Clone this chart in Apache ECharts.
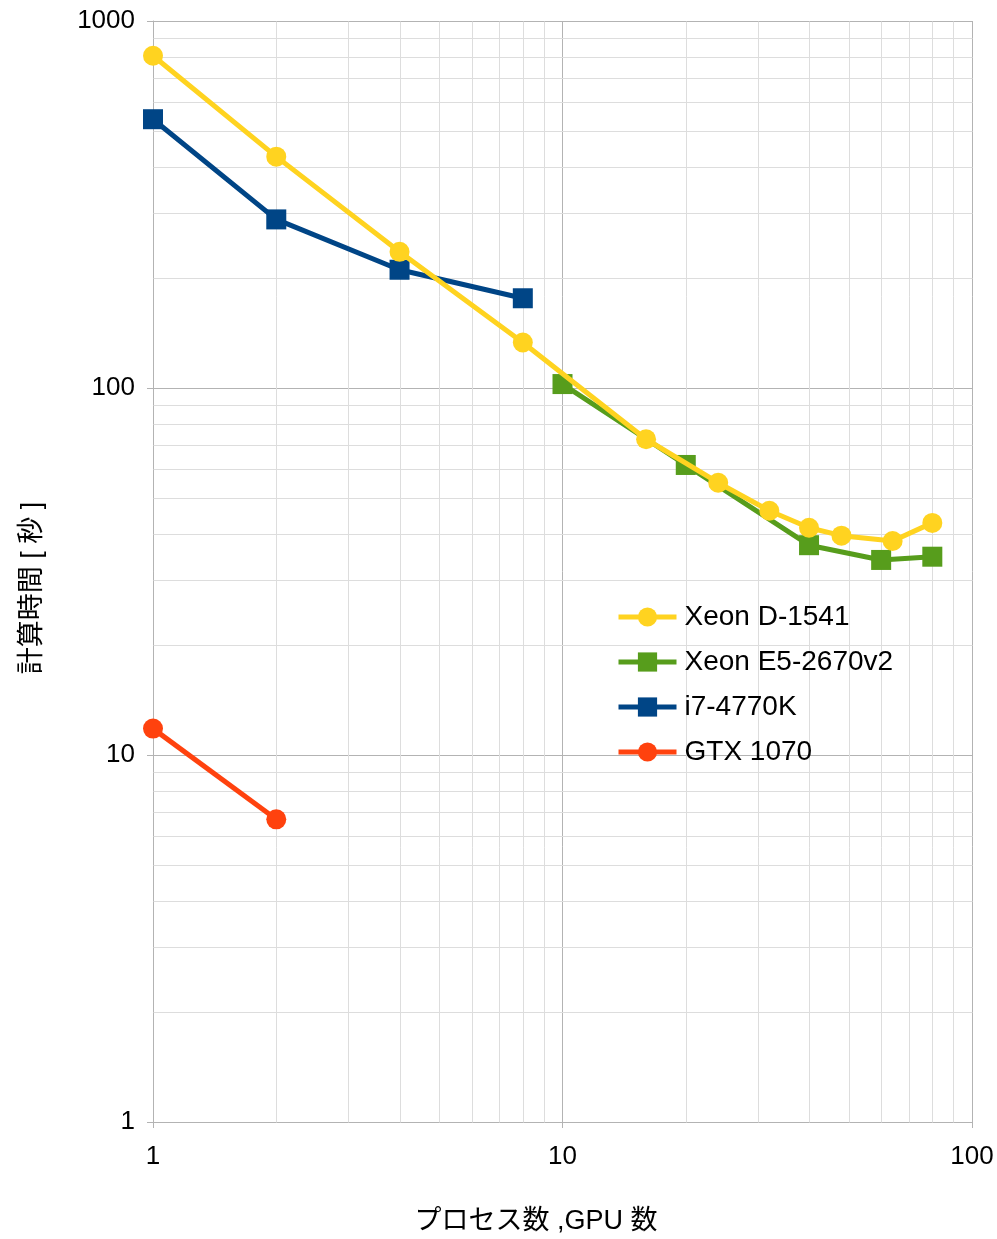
<!DOCTYPE html>
<html>
<head>
<meta charset="utf-8">
<script src="https://cdn.jsdelivr.net/npm/echarts@6/dist/echarts.min.js"></script>
<style>
  html, body { margin: 0; padding: 0; background: #ffffff; }
  #chart { width: 997px; height: 1239px; }
</style>
</head>
<body>
<div id="chart"></div>
<script>
// Computation time vs. number of processes / GPUs (log-log)
const seriesNames = ['Xeon D-1541', 'Xeon E5-2670v2', 'i7-4770K', 'GTX 1070'];

const xeonD1541X = [1, 2, 4, 8, 16, 24, 32, 40, 48, 64, 80];
const xeonD1541Y = [804, 427, 235, 133, 72.5, 55.2, 46.3, 41.6, 39.6, 38.3, 42.9];

const xeonE5X = [10, 20, 40, 60, 80];
const xeonE5Y = [102.5, 61.7, 37.3, 34.0, 34.7];

const i7X = [1, 2, 4, 8];
const i7Y = [540, 288, 210, 175.6];

const gtxX = [1, 2];
const gtxY = [11.8, 6.68];

// minor grid positions (2..9 within each decade)
const xMinorTicks = [2, 3, 4, 5, 6, 7, 8, 9, 20, 30, 40, 50, 60, 70, 80, 90];
const yMinorTicks = [2, 3, 4, 5, 6, 7, 8, 9, 20, 30, 40, 50, 60, 70, 80, 90,
                     200, 300, 400, 500, 600, 700, 800, 900];

const xRange = [1, 100];
const yRange = [1, 1000];

const xTitle = 'プロセス数 ,GPU 数';
const yTitle = '計算時間 [ 秒 ]';

const colors = {
  'Xeon D-1541': '#ffd320',
  'Xeon E5-2670v2': '#579d1c',
  'i7-4770K': '#004586',
  'GTX 1070': '#ff420e'
};

const FONT = '"Liberation Sans", "Noto Sans CJK JP", sans-serif';

function pairs(xs, ys) { return xs.map((x, i) => [x, ys[i]]); }

function lineSeries(name, xs, ys, symbol, size, z) {
  return {
    name: name,
    type: 'line',
    data: pairs(xs, ys),
    symbol: symbol,
    symbolSize: size,
    showAllSymbol: true,
    z: z,
    lineStyle: { color: colors[name], width: 5 },
    itemStyle: { color: colors[name], borderWidth: 0 },
    emphasis: { disabled: true },
    animation: false
  };
}

// thin light-grey lines at the minor log positions, placed through the axes' own scales
function minorGridSeries(values, dim) {
  return {
    type: 'custom',
    silent: true,
    z: 1,
    animation: false,
    data: values.map(v => [v]),
    renderItem: function (params, api) {
      const v = api.value(0);
      let p1, p2;
      if (dim === 'x') {
        p1 = api.coord([v, yRange[0]]);
        p2 = api.coord([v, yRange[1]]);
      } else {
        p1 = api.coord([xRange[0], v]);
        p2 = api.coord([xRange[1], v]);
      }
      return {
        type: 'line',
        shape: { x1: Math.round(p1[0]) + 0.5, y1: Math.round(p1[1]) + 0.5, x2: Math.round(p2[0]) + 0.5, y2: Math.round(p2[1]) + 0.5 },
        style: { stroke: '#dddddd', lineWidth: 1 }
      };
    },
    encode: dim === 'x' ? { x: 0 } : { y: 0 }
  };
}

const chart = echarts.init(document.getElementById('chart'), null, { renderer: 'canvas' });

chart.setOption({
  animation: false,
  backgroundColor: '#ffffff',
  textStyle: { fontFamily: FONT },
  grid: { left: 153, right: 25, top: 21, bottom: 117 },
  xAxis: {
    type: 'log',
    logBase: 10,
    min: xRange[0],
    max: xRange[1],
    axisLine: { show: true, lineStyle: { color: '#b3b3b3', width: 1 } },
    axisTick: { show: true, length: 6, lineStyle: { color: '#b3b3b3' } },
    axisLabel: { color: '#000000', fontSize: 26, fontFamily: FONT, margin: 22, formatter: v => String(v) },
    splitLine: { show: true, lineStyle: { color: '#b3b3b3', width: 1 } }
  },
  yAxis: {
    type: 'log',
    logBase: 10,
    min: yRange[0],
    max: yRange[1],
    axisLine: { show: true, lineStyle: { color: '#b3b3b3', width: 1 } },
    axisTick: { show: true, length: 6, lineStyle: { color: '#b3b3b3' } },
    axisLabel: { color: '#000000', fontSize: 26, fontFamily: FONT, margin: 18, formatter: v => String(v) },
    splitLine: { show: true, lineStyle: { color: '#b3b3b3', width: 1 } }
  },
  legend: {
    data: seriesNames,
    orient: 'vertical',
    left: 616,
    top: 603,
    padding: 0,
    itemWidth: 58,
    itemHeight: 24,
    itemGap: 17,
    selectedMode: false,
    lineStyle: { width: 5 },
    textStyle: { color: '#000000', fontSize: 28, fontFamily: FONT, lineHeight: 28, padding: [0, 0, 0, 3] }
  },
  graphic: [
    {
      type: 'text',
      x: 536, y: 1222,
      style: { text: xTitle, fill: '#000000', font: '27px ' + FONT, align: 'center', verticalAlign: 'middle' }
    },
    {
      type: 'text',
      x: 33, y: 588,
      rotation: Math.PI / 2,
      style: { text: yTitle, fill: '#000000', font: '27px ' + FONT, align: 'center', verticalAlign: 'middle' }
    }
  ],
  series: [
    minorGridSeries(xMinorTicks, 'x'),
    minorGridSeries(yMinorTicks, 'y'),
    lineSeries('GTX 1070', gtxX, gtxY, 'circle', 20, 2),
    lineSeries('i7-4770K', i7X, i7Y, 'rect', 20, 3),
    lineSeries('Xeon E5-2670v2', xeonE5X, xeonE5Y, 'rect', 20, 4),
    lineSeries('Xeon D-1541', xeonD1541X, xeonD1541Y, 'circle', 20, 5)
  ]
});
</script>
</body>
</html>
